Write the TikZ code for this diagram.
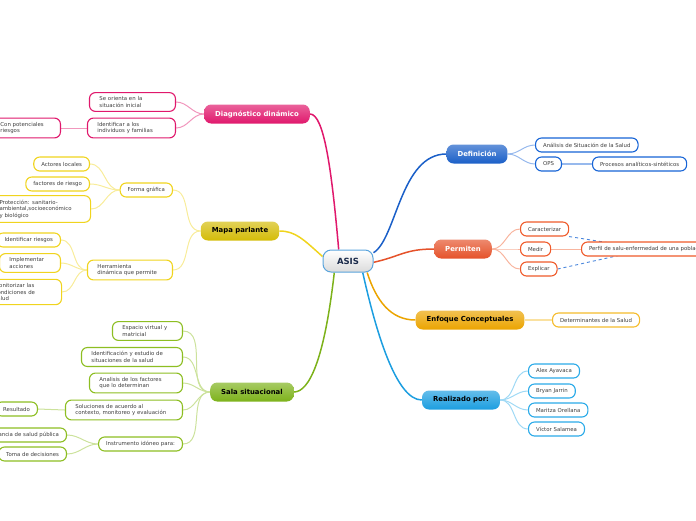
\documentclass[tikz,border=0pt]{standalone}
\usepackage{fontspec}
\setmainfont{DejaVu Sans}
\usepackage{xcolor}
\usetikzlibrary{backgrounds}

\definecolor{asisBlue}{HTML}{5AA4DC}
\definecolor{asisText}{HTML}{1A2A4A}
\definecolor{diagPink}{HTML}{E0186C}
\definecolor{mapaYellow}{HTML}{D4BC08}
\definecolor{mapaLeaf}{HTML}{F0D41E}
\definecolor{salaGreen}{HTML}{7DB21A}
\definecolor{salaLeaf}{HTML}{8DBE22}
\definecolor{defBlue}{HTML}{1A5FC8}
\definecolor{defLeaf}{HTML}{1764D6}
\definecolor{permOrange}{HTML}{E5522A}
\definecolor{permLeaf}{HTML}{EF5A2A}
\definecolor{enfGold}{HTML}{EBA400}
\definecolor{enfLeaf}{HTML}{F5BC2C}
\definecolor{realCyan}{HTML}{1C9EE0}
\definecolor{realLeaf}{HTML}{2AAAE8}
\definecolor{dashBlue}{HTML}{4A86DC}

\begin{document}
\begin{tikzpicture}[
  x=1pt, y=-1pt,
  font=\fontsize{5.4}{6.6}\selectfont,
  root/.style={
    draw=asisBlue,
    line width=1pt,
    rounded corners=8pt,
    top color=white,
    bottom color=black!14,
    text=asisText,
    font=\bfseries\fontsize{8.5}{10}\selectfont,
    minimum width=50pt,
    minimum height=22pt
  },
  topic/.style 2 args={
    rounded corners=7pt,
    top color=#1!68!white,
    bottom color=#1,
    text=#2,
    font=\bfseries\fontsize{6.9}{8}\selectfont,
    inner xsep=11pt,
    minimum height=19pt
  },
  leaf/.style={
    draw=#1,
    line width=1.1pt,
    rounded corners=6pt,
    fill=white,
    text=black!75,
    inner xsep=7.5pt,
    inner ysep=4pt,
    minimum height=14pt
  },
  wrap/.style={
    text width=#1,
    align=left,
    inner xsep=10pt
  },
  branch/.style={
    draw=#1,
    line width=1.5pt
  },
  twig/.style={
    draw=#1!45!white,
    line width=1pt
  }
]

\useasboundingbox (0,0) rectangle (696,520);

%---------------------------------
% Centre
%---------------------------------
\node[root] (asis) at (348,261) {ASIS};

%---------------------------------
% Diagnostico dinamico
%---------------------------------
\node[topic={diagPink}{white}] (diag) at (257,114) {Diagnóstico dinámico};
\node[leaf=diagPink, wrap=66pt, anchor=east] (orienta) at (176,102)
{Se orienta en la\\situación inicial};
\node[leaf=diagPink, wrap=68pt, anchor=east] (identfam) at (176,128)
{Identificar a los\\individuos y familias};
\node[leaf=diagPink, wrap=50pt, anchor=east] (potenc) at (61,128)
{Con potenciales\\riesgos};

%---------------------------------
% Mapa parlante
%---------------------------------
\node[topic={mapaYellow}{black}] (mapa) at (240,231) {Mapa parlante};
\node[leaf=mapaLeaf, anchor=east] (forma) at (173,190) {Forma gráfica};
\node[leaf=mapaLeaf, anchor=east] (actores) at (90,164) {Actores locales};
\node[leaf=mapaLeaf, anchor=east] (factores) at (90,184) {factores de riesgo};
\node[leaf=mapaLeaf, wrap=81pt, anchor=west] (protec) at (-11,209)
{Protección: sanitario-\\ambiental,socioeconómico\\y biológico};
\node[leaf=mapaLeaf, wrap=65pt, anchor=east] (herram) at (173,270)
{Herramienta\\dinámica que permite};
\node[leaf=mapaLeaf, anchor=east] (identrisk) at (61,240) {Identificar riesgos};
\node[leaf=mapaLeaf, wrap=41pt, anchor=east] (implem) at (61,263)
{Implementar\\acciones};
\node[leaf=mapaLeaf, wrap=57pt, anchor=west] (monit) at (-16,292)
{Monitorizar las\\condiciones de\\salud};

%---------------------------------
% Sala situacional
%---------------------------------
\node[topic={salaGreen}{black}] (sala) at (252,392) {Sala situacional};
\node[leaf=salaLeaf, wrap=50pt, anchor=east] (espacio) at (183,331)
{Espacio virtual y\\matricial};
\node[leaf=salaLeaf, wrap=81pt, anchor=east] (identest) at (183,357)
{Identificación y estudio de\\situaciones de la salud};
\node[leaf=salaLeaf, wrap=73pt, anchor=east] (analisis) at (183,383)
{Analisis de los factores\\que lo determinan};
\node[leaf=salaLeaf, wrap=97pt, anchor=east] (soluc) at (183,410)
{Soluciones de acuerdo al\\contexto, monitoreo y evaluación};
\node[leaf=salaLeaf, anchor=east] (result) at (38,409) {Resultado};
\node[leaf=salaLeaf, anchor=east] (instrum) at (183,444) {Instrumento idóneo para:};
\node[leaf=salaLeaf, anchor=east] (vigil) at (67,435) {Vigilancia de salud pública};
\node[leaf=salaLeaf, anchor=east] (toma) at (67,454) {Toma de decisiones};

%---------------------------------
% Definicion
%---------------------------------
\node[topic={defBlue}{white}] (defin) at (477,154) {Definición};
\node[leaf=defLeaf, anchor=west] (analsit) at (535,145) {Análisis de Situación de la Salud};
\node[leaf=defLeaf, anchor=west] (ops) at (535,164) {OPS};
\node[leaf=defLeaf, anchor=west] (procesos) at (592,164) {Procesos analíticos-sintéticos};

%---------------------------------
% Permiten
%---------------------------------
\node[topic={permOrange}{white}] (permit) at (463,249) {Permiten};
\node[leaf=permLeaf, anchor=west] (caract) at (520,229) {Caracterizar};
\node[leaf=permLeaf, anchor=west] (medir) at (520,249) {Medir};
\node[leaf=permLeaf, anchor=west] (explic) at (520,269) {Explicar};
\node[leaf=permLeaf, anchor=west] (perfil) at (581,249) {Perfil de salu-enfermedad de una población};

%---------------------------------
% Enfoque Conceptuales
%---------------------------------
\node[topic={enfGold}{black}] (enfoq) at (470,320) {Enfoque Conceptuales};
\node[leaf=enfLeaf, anchor=west] (determ) at (552,320) {Determinantes de la Salud};

%---------------------------------
% Realizado por
%---------------------------------
\node[topic={realCyan}{black}] (realiz) at (461,400) {Realizado por:};
\node[leaf=realLeaf, anchor=west] (alex) at (528,371) {Alex Ayavaca};
\node[leaf=realLeaf, anchor=west] (bryan) at (528,391) {Bryan Jarrin};
\node[leaf=realLeaf, anchor=west] (maritza) at (528,410) {Maritza Orellana};
\node[leaf=realLeaf, anchor=west] (victor) at (528,429) {Víctor Salamea};

%---------------------------------
% Connections
%---------------------------------
\begin{pgfonlayer}{background}
\draw[branch=diagPink] (asis.129) .. controls +(-7,-80) and +(14,0) .. (diag.east);
\draw[branch=mapaLeaf] (asis.170) .. controls +(-19,-17) and +(16,0) .. (mapa.east);
\draw[branch=salaGreen] (asis.220) .. controls +(-10,88) and +(15,0) .. (sala.east);
\draw[branch=defBlue] (asis.18) .. controls +(23,-14) and +(-46,0) .. (defin.west);
\draw[branch=permOrange] (asis.357) .. controls +(27,-6) and +(-29,0) .. (permit.west);
\draw[branch=enfGold] (asis.329) .. controls +(9,28) and +(-25,0) .. (enfoq.west);
\draw[branch=realCyan] (asis.322) .. controls +(13,58) and +(-26,0) .. (realiz.west);

\draw[twig=diagPink] (diag.west) to[out=180,in=0] (orienta.east);
\draw[twig=diagPink] (diag.west) to[out=180,in=0] (identfam.east);
\draw[twig=diagPink] (identfam.west) -- (potenc.east);

\draw[twig=mapaLeaf] (mapa.west) to[out=180,in=0] (forma.east);
\draw[twig=mapaLeaf] (mapa.west) to[out=180,in=0] (herram.east);
\draw[twig=mapaLeaf] (forma.west) to[out=180,in=0] (actores.east);
\draw[twig=mapaLeaf] (forma.west) to[out=180,in=0] (factores.east);
\draw[twig=mapaLeaf] (forma.west) to[out=180,in=0] (protec.east);
\draw[twig=mapaLeaf] (herram.west) to[out=180,in=0] (identrisk.east);
\draw[twig=mapaLeaf] (herram.west) to[out=180,in=0] (implem.east);
\draw[twig=mapaLeaf] (herram.west) to[out=180,in=0] (monit.east);

\draw[twig=salaLeaf] (sala.west) to[out=180,in=0] (espacio.east);
\draw[twig=salaLeaf] (sala.west) to[out=180,in=0] (identest.east);
\draw[twig=salaLeaf] (sala.west) to[out=180,in=0] (analisis.east);
\draw[twig=salaLeaf] (sala.west) to[out=180,in=0] (soluc.east);
\draw[twig=salaLeaf] (sala.west) to[out=180,in=0] (instrum.east);
\draw[twig=salaLeaf] (soluc.west) -- (result.east);
\draw[twig=salaLeaf] (instrum.west) to[out=180,in=0] (vigil.east);
\draw[twig=salaLeaf] (instrum.west) to[out=180,in=0] (toma.east);

\draw[twig=defLeaf] (defin.east) to[out=0,in=180] (analsit.west);
\draw[twig=defLeaf] (defin.east) to[out=0,in=180] (ops.west);
\draw[twig=defLeaf, line width=1.6pt] (ops.east) -- (procesos.west);

\draw[twig=permLeaf] (permit.east) to[out=0,in=180] (caract.west);
\draw[twig=permLeaf] (permit.east) to[out=0,in=180] (medir.west);
\draw[twig=permLeaf] (permit.east) to[out=0,in=180] (explic.west);
\draw[twig=permLeaf] (medir.east) -- (perfil.west);
\draw[dashBlue, dashed, line width=0.9pt] (caract.south east) -- (perfil.center);
\draw[dashBlue, dashed, line width=0.9pt] (explic.east) -- (perfil.center);

\draw[twig=enfLeaf, line width=1.6pt] (enfoq.east) -- (determ.west);

\draw[twig=realLeaf] (realiz.east) to[out=0,in=180] (alex.west);
\draw[twig=realLeaf] (realiz.east) to[out=0,in=180] (bryan.west);
\draw[twig=realLeaf] (realiz.east) to[out=0,in=180] (maritza.west);
\draw[twig=realLeaf] (realiz.east) to[out=0,in=180] (victor.west);
\end{pgfonlayer}

\end{tikzpicture}
\end{document}
